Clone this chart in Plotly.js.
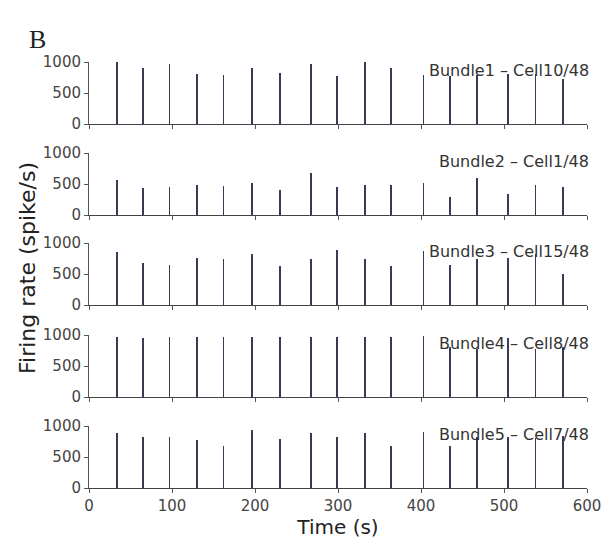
<!DOCTYPE html>
<html>
<head>
<meta charset="utf-8">
<script src="https://cdn.plot.ly/plotly-3.0.1.min.js"></script>
<style>html,body{margin:0;padding:0;background:#fff;}#chart{width:605px;height:547px;}</style>
</head>
<body>
<div id="chart"></div>
<script>
// Burst onset times (s)
const spikeTimes = [34, 65, 97, 130, 162, 196, 230, 267, 299, 333, 364, 403, 435, 468, 505, 538, 571];
// Peak firing rates (spike/s) per bundle
const bundle1 = [1000, 900, 960, 800, 785, 900, 830, 970, 775, 1000, 900, 790, 770, 785, 800, 800, 720];
const bundle2 = [560, 430, 450, 480, 470, 510, 400, 670, 450, 480, 490, 510, 290, 590, 345, 490, 450];
const bundle3 = [850, 680, 650, 765, 735, 820, 635, 750, 895, 750, 635, 870, 650, 750, 765, 820, 500];
const bundle4 = [970, 950, 960, 970, 960, 970, 960, 970, 960, 960, 970, 980, 800, 780, 950, 780, 800];
const bundle5 = [880, 820, 830, 770, 680, 930, 790, 880, 830, 880, 680, 900, 680, 830, 830, 800, 840];
const panelLabels = ["Bundle1 \u2013 Cell10/48", "Bundle2 \u2013 Cell1/48", "Bundle3 \u2013 Cell15/48", "Bundle4 \u2013 Cell8/48", "Bundle5 \u2013 Cell7/48"];
const xTicks = [0, 100, 200, 300, 400, 500, 600];
const yTicks = [0, 500, 1000];

const series = [bundle1, bundle2, bundle3, bundle4, bundle5];
const H = 547, W = 605;
const zeroPx = [124, 215, 305, 397, 488];
const span = 62;

const traces = [];
const layout = {
  width: W, height: H,
  margin: {l: 0, r: 0, t: 0, b: 0},
  paper_bgcolor: '#ffffff', plot_bgcolor: '#ffffff',
  showlegend: false,
  bargap: 0,
  font: {family: 'DejaVu Sans, sans-serif', size: 15, color: '#444'},
  annotations: []
};

series.forEach((vals, i) => {
  const n = i + 1;
  const xa = 'x' + (n === 1 ? '' : n), ya = 'y' + (n === 1 ? '' : n);
  traces.push({
    type: 'bar', x: spikeTimes, y: vals,
    width: 2.3,
    marker: {color: '#3a3a58', line: {width: 0}},
    xaxis: xa, yaxis: ya, hoverinfo: 'x+y'
  });
  const last = n === 5;
  layout['xaxis' + (n === 1 ? '' : n)] = {
    domain: [89 / W, 587 / W], range: [0, 600],
    anchor: ya, tickvals: xTicks, showticklabels: last,
    ticks: 'outside', ticklen: 4, tickcolor: '#555', tickwidth: 1,
    showline: true, linecolor: '#444', linewidth: 1.2,
    showgrid: false, zeroline: false, fixedrange: true,
    tickfont: {size: 15, color: '#444'},
    title: last ? {text: 'Time (s)', font: {size: 20, color: '#222'}, standoff: 2} : {text: ''}
  };
  const d0 = 1 - zeroPx[i] / H, d1 = 1 - (zeroPx[i] - span) / H;
  layout['yaxis' + (n === 1 ? '' : n)] = {
    domain: [d0, d1], range: [0, 1000],
    anchor: xa, tickvals: yTicks,
    ticks: 'outside', ticklen: 4, tickcolor: '#555', tickwidth: 1,
    showline: true, linecolor: '#555', linewidth: 1,
    showgrid: false, zeroline: false, fixedrange: true,
    tickfont: {size: 15, color: '#444'}
  };
  layout.annotations.push({
    text: panelLabels[i], xref: 'paper', x: 591 / W, xanchor: 'right',
    yref: ya, y: 870, yanchor: 'middle', showarrow: false,
    font: {size: 16, color: '#333'}
  });
});

layout.annotations.push({
  text: 'Firing rate (spike/s)', xref: 'paper', yref: 'paper',
  x: 28 / W, y: 1 - 268 / H, textangle: -90, showarrow: false,
  xanchor: 'center', yanchor: 'middle',
  font: {size: 22, color: '#222'}
});
layout.annotations.push({
  text: 'B', xref: 'paper', yref: 'paper', x: 37 / W, y: 1 - 40 / H,
  xanchor: 'center', yanchor: 'middle', showarrow: false,
  font: {family: 'Liberation Serif, serif', size: 26, color: '#222'}
});

Plotly.newPlot('chart', traces, layout, {displayModeBar: false, staticPlot: true});
</script>
</body>
</html>
